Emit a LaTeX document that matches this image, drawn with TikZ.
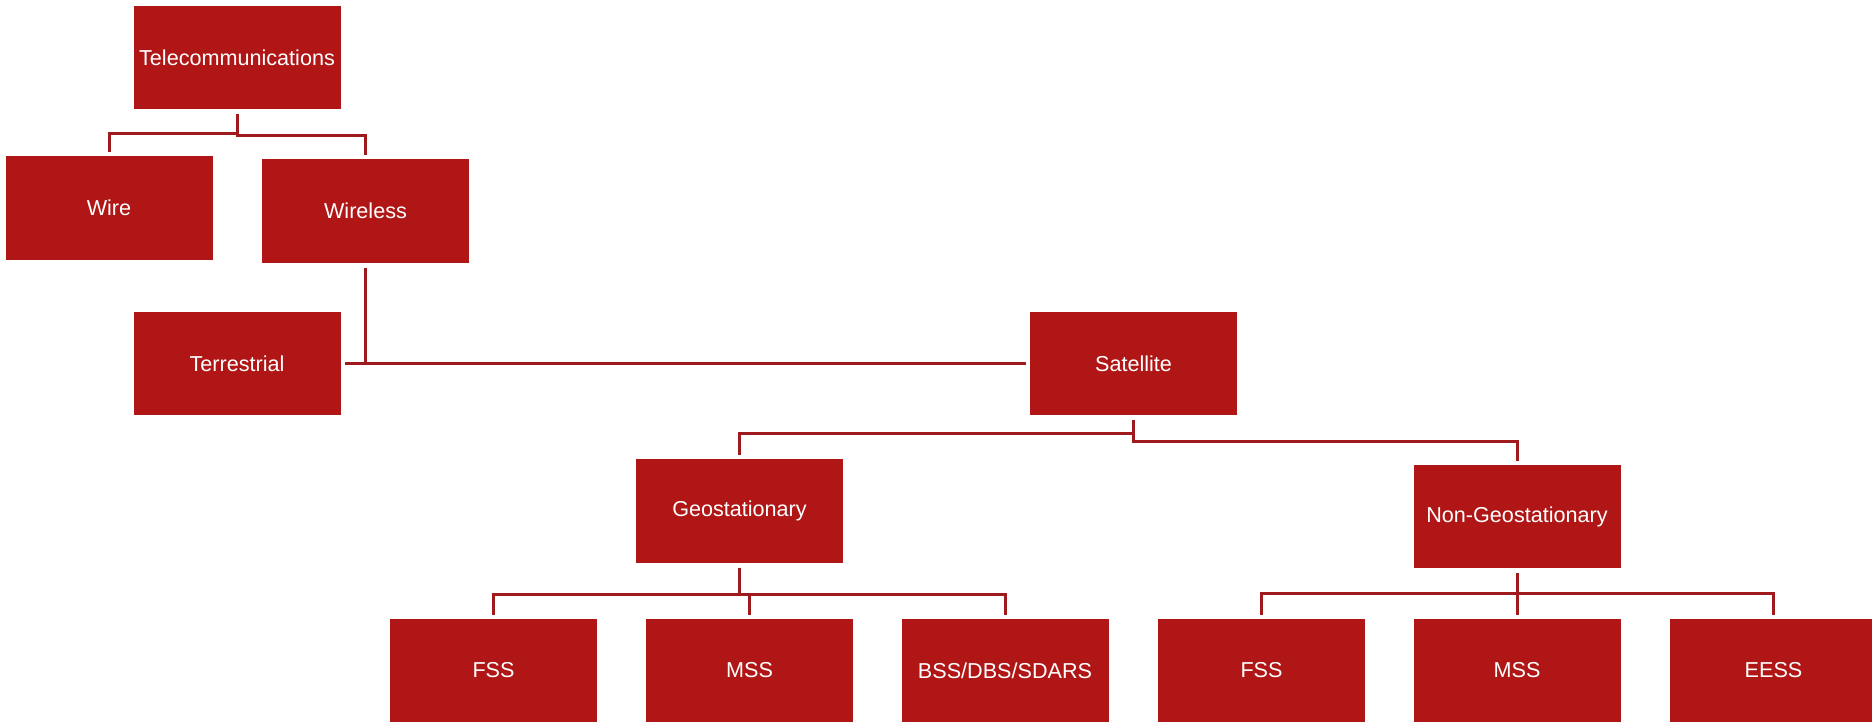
\documentclass[tikz,border=0pt]{standalone}
\usepackage{fontspec}
\setmainfont{Liberation Sans}
\usetikzlibrary{calc}
\definecolor{boxred}{RGB}{175,22,21}
\definecolor{linkred}{RGB}{158,26,28}

\begin{document}
\begin{tikzpicture}[x=0.75pt,y=-0.75pt,
        box/.style={fill=boxred, text=white, inner sep=0pt,
            minimum width=155.25pt, minimum height=77.5pt,
            font=\fontsize{16.2}{19}\selectfont},
        link/.style={draw=linkred, line width=2.25pt,
            shorten <=3.5pt, shorten >=3pt}]
        \useasboundingbox (0,0) rectangle (1872,722);
        % top levels
        \node[box] (tele) at (237,57.5) {Telecommunications};
        \node[box] (wire) at (109,208) {Wire};
        \node[box] (wireless) at (365.5,211) {Wireless};
        \node[box] (terr) at (237,363.5) {Terrestrial};
        \node[box] (sat) at (1133.5,363.5) {Satellite};
        \node[box] (geo) at (739.5,511) {Geostationary};
        \node[box] (nongeo) at (1517,516.5) {Non-Geostationary};
        % services
        \node[box] (fssa) at (493.5,670.5) {FSS};
        \node[box] (mssa) at (749.5,670.5) {MSS};
        \node[box] (bss) at (1005,670.5) {BSS/DBS/SDARS};
        \node[box] (fssb) at (1261.5,670.5) {FSS};
        \node[box] (mssb) at (1517,670.5) {MSS};
        \node[box] (eess) at (1773.5,670.5) {EESS};
        % connectors
        \draw[link] (tele.south) -- ++(0,24) -| (wire.north);
        \draw[link] (tele.south) -- ++(0,26) -| (wireless.north);
        \draw[link] (wireless.south) |- (terr.east);
        \draw[link] (wireless.south) |- (sat.west);
        \draw[link] (sat.south) -- ++(0,18) -| (geo.north);
        \draw[link] (sat.south) -- ++(0,26) -| (nongeo.north);
        \foreach \n in {fssa,mssa,bss}
            \draw[link] (geo.south) -- ++(0,32) -| (\n.north);
        \foreach \n in {fssb,mssb,eess}
            \draw[link] (nongeo.south) -- ++(0,25) -| (\n.north);
\end{tikzpicture}
\end{document}
